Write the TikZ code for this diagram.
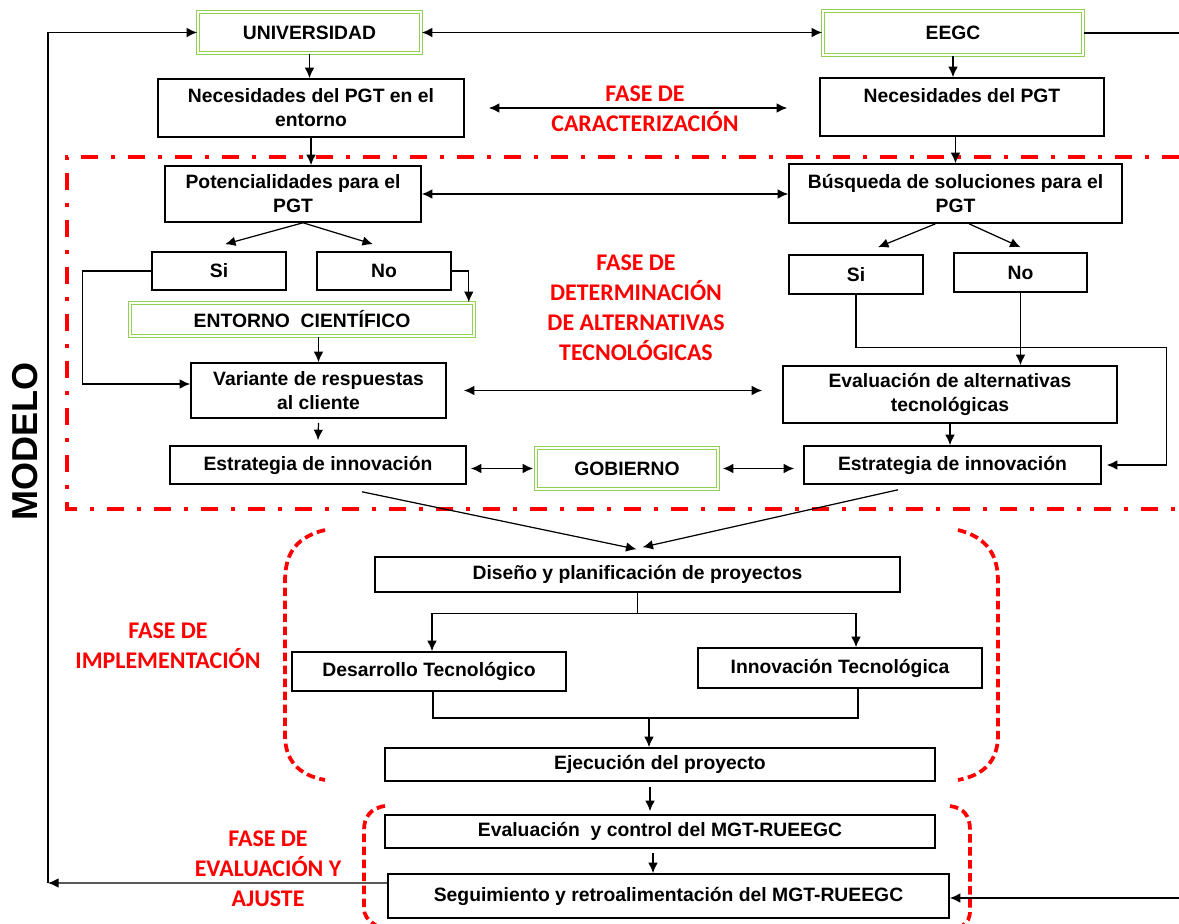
\documentclass[tikz,border=0pt]{standalone}
\usepackage{fontspec}
\setmainfont{Liberation Sans}
\newfontfamily\calib{Carlito}
\usepackage{tikz}
\usetikzlibrary{arrows,arrows.meta}
\usetikzlibrary{positioning}
\definecolor{verdeb}{RGB}{146,208,80}
\definecolor{rojof}{RGB}{255,0,0}
\tikzset{
    blk/.style = {draw, line width=0.9pt, align=center, inner sep=1pt,
                 font=\bfseries\fontsize{11}{13.6}\selectfont},
    ent/.style = {blk, draw=verdeb, line width=0.9pt, double=white, double distance=0.9pt},
    fase/.style = {text=rojof, align=center, font=\calib\bfseries\fontsize{13.6}{17}\selectfont},
    fasebox/.style = {draw=rojof, line width=0.8mm, dash pattern=on 3.4mm off 2.6mm on 0.8mm off 2.6mm},
    llave/.style = {draw=rojof, line width=0.75mm, dash pattern=on 1.7mm off 0.9mm},
}

\begin{document}
\begin{tikzpicture}[>={Latex[length=2.1mm,width=1.9mm]}, x=0.2mm, y=-0.2mm, line width=0.7pt]
\useasboundingbox (0,0) rectangle (1179,924);

\draw[fasebox] (1179,157) -- (67,157) -- (67,509) -- (1179,509);
\draw[llave] (325,530) .. controls (292,538) and (285,558) .. (285,582) -- (285,735) .. controls (285,760) and (298,775) .. (325,780);
\draw[llave] (958,530) .. controls (990,538) and (998,558) .. (998,582) -- (998,735) .. controls (998,760) and (985,775) .. (958,780);
\draw[llave] (385,806) .. controls (370,808) and (364,818) .. (364,830) -- (364,908) .. controls (364,915) and (367,920) .. (377,926);
\draw[llave] (950,806) .. controls (964,808) and (970,816) .. (970,830) -- (970,910) .. controls (970,918) and (968,922) .. (962,926);

\node (univ) [ent, minimum width=44.6mm, minimum height=8.2mm] at (309.5,32.5) {UNIVERSIDAD};
\node (eegc) [ent, minimum width=52mm, minimum height=8.8mm] at (953,33) {EEGC};
\node (nec1) [blk, minimum width=61.2mm, minimum height=11.6mm] at (311,108) {Necesidades del PGT en el\\entorno};
\node (nec2) [blk, minimum width=56.8mm, minimum height=11.6mm] at (962,107) {Necesidades del PGT\\ \mbox{}};
\node (carac) [fase] at (645,109) {FASE DE\\CARACTERIZACIÓN};

\node (pot) [blk, minimum width=51.2mm, minimum height=11.2mm] at (293,194) {Potencialidades para el\\PGT};
\node (bus) [blk, minimum width=66.6mm, minimum height=11.8mm] at (955.5,193.5) {Búsqueda de soluciones para el\\PGT};
\node (si1) [blk, minimum width=26.8mm, minimum height=7.6mm] at (219,271) {Si};
\node (no1) [blk, minimum width=26.8mm, minimum height=7.6mm] at (384,271) {No};
\node (si2) [blk, minimum width=26.8mm, minimum height=7.8mm] at (856,274.5) {Si};
\node (no2) [blk, minimum width=26.6mm, minimum height=7.8mm] at (1020.5,272.5) {No};
\node (det) [fase] at (636,307.5) {FASE DE\\DETERMINACIÓN\\DE ALTERNATIVAS\\TECNOLÓGICAS};
\node (entc) [ent, minimum width=68.8mm, minimum height=6.6mm] at (302,319.5) {ENTORNO\ \ CIENTÍFICO};
\node (var) [blk, minimum width=51mm, minimum height=11mm] at (318.5,390.5) {Variante de respuestas\\al cliente};
\node (evalt) [blk, minimum width=66.8mm, minimum height=11.4mm] at (950,394.5) {Evaluación de alternativas\\tecnológicas};
\node (est1) [blk, minimum width=59.2mm, minimum height=7.6mm] at (318,465) {Estrategia de innovación};
\node (gob) [ent, minimum width=36.4mm, minimum height=8.2mm] at (627,468.5) {GOBIERNO};
\node (est2) [blk, minimum width=59.4mm, minimum height=7.6mm] at (952.5,465) {Estrategia de innovación};

\node (dis) [blk, minimum width=105mm, minimum height=7mm] at (637.5,574.5) {Diseño y planificación de proyectos};
\node (impl) [fase] at (168,646) {FASE DE\\IMPLEMENTACIÓN};
\node (des) [blk, minimum width=54.8mm, minimum height=7.8mm] at (429,671.5) {Desarrollo Tecnológico};
\node (inn) [blk, minimum width=56.8mm, minimum height=8mm] at (840,668) {Innovación Tecnológica};
\node (eje) [blk, minimum width=110mm, minimum height=6.6mm] at (660,764.5) {Ejecución del proyecto};
\node (evc) [blk, minimum width=110mm, minimum height=6.6mm] at (660,831.5) {Evaluación\ \ y control del MGT-RUEEGC};
\node (seg) [blk, minimum width=112.2mm, minimum height=8.8mm] at (668.5,896) {Seguimiento y retroalimentación del MGT-RUEEGC};
\node (evaj) [fase] at (268,868.5) {FASE DE\\EVALUACIÓN Y\\AJUSTE};

\node (modelo) [rotate=90, font=\bfseries\fontsize{20.5}{24}\selectfont] at (25.5,441.5) {MODELO};

\coordinate (lc) at (48,883);
\coordinate (lt) at (48,32.5);
\coordinate (rtop) at (1179,33);
\coordinate (rbot) at (1179,898);
\coordinate (mg) at (649,718);

\draw[->] ([yshift=2.6mm]seg.west) -- (lc);
\draw[->] (lc) -- (lt) -- (univ.west);
\draw[<->] (univ.east) -- (univ.east -| eegc.west);
\draw (eegc.east) -- (rtop);
\draw[->] (rbot) -- (seg.east |- rbot);
\draw[->] (univ.south) -- (univ.south |- nec1.north);
\draw[->] (eegc.south) -- (eegc.south |- nec2.north);
\draw[<->] ([xshift=4.8mm]nec1.east) -- ([xshift=-6.4mm]nec2.west |- nec1.east);
\draw[->] (nec1.south) -- (nec1.south |- pot.north);
\draw[->] (bus.north |- nec2.south) -- (bus.north);
\draw[<->] (pot.east) -- (pot.east -| bus.west);
\draw[->] ([xshift=2mm]pot.south) -- ([xshift=1.2mm,yshift=1.4mm]si1.north);
\draw[->] ([xshift=2mm]pot.south) -- ([xshift=-2.2mm,yshift=1.4mm]no1.north);
\draw[->] ([xshift=-4mm]bus.south) -- ([xshift=4.4mm,yshift=1.4mm]si2.north);
\draw[->] ([xshift=2.7mm]bus.south) -- ([yshift=1mm]no2.north);
\draw[->] (no1.east) -| ([xshift=-1.2mm]entc.north east);
\draw[->] (si1.west) -- ++(-13.8mm,0) |- ([yshift=1.3mm]var.west);
\draw[->] (var.north |- entc.south) -- (var.north);
\draw[<->] ([xshift=3.4mm]var.east) -- ([xshift=-4mm]evalt.west |- var.east);
\draw[->] ([yshift=-0.8mm]var.south) -- ([yshift=1mm]est1.north);
\draw[->] (si2.south) -- ++(0,-10.6mm) -| ([xshift=13mm]est2.east) -- ([xshift=1mm]est2.east);
\draw[->] (no2.south) -- (no2.south |- evalt.north);
\draw[->] (evalt.south) -- (evalt.south |- est2.north);
\draw[<->] ([xshift=0.8mm]est1.east |- gob.west) -- ([xshift=-0.4mm]gob.west);
\draw[<->] ([xshift=0.8mm]gob.east) -- ([xshift=-1.8mm]est2.west |- gob.east);
\draw[->] ([xshift=8.8mm,yshift=-1.4mm]est1.south) -- ([xshift=-0.2mm,yshift=1.4mm]dis.north);
\draw[->] ([xshift=-10.9mm,yshift=-1mm]est2.south) -- ([xshift=1mm,yshift=1.8mm]dis.north);
\draw (dis.south) -- ++(0,-4.2mm) coordinate (br);
\draw[->] (br) -| ([xshift=0.6mm]des.north);
\draw[->] (br) -| ([xshift=3.2mm]inn.north);
\draw ([xshift=0.8mm]des.south) |- (mg) -| ([xshift=3.6mm]inn.south);
\draw[->] (mg) -- (mg |- eje.north);
\draw[->] ([xshift=-2mm,yshift=-1mm]eje.south) -- ([xshift=-2mm,yshift=0.6mm]evc.north);
\draw[->] ([xshift=-1.4mm,yshift=-0.8mm]evc.south) -- ([xshift=-1.4mm]evc.south |- seg.north);
\end{tikzpicture}
\end{document}
